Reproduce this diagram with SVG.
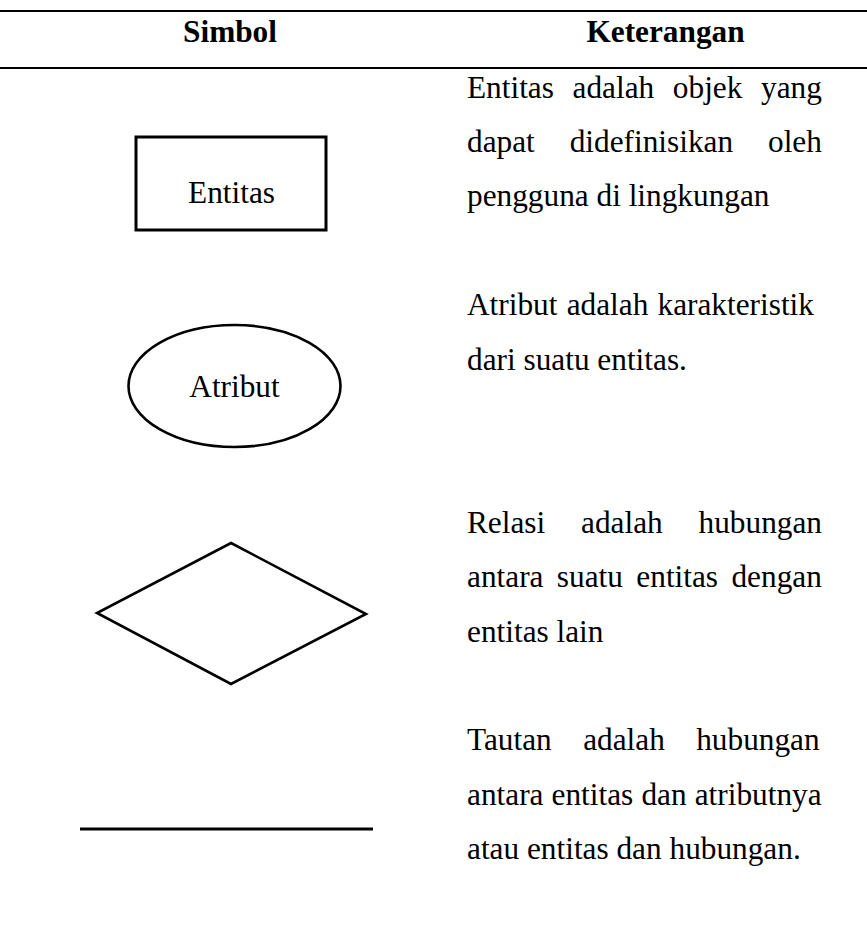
<svg xmlns="http://www.w3.org/2000/svg" width="867" height="932" viewBox="0 0 867 932">
<style>
.t{font-family:"Liberation Serif","Times New Roman",serif;font-size:31.3px;fill:#000}
.h{font-weight:bold;text-anchor:middle}
.c{text-anchor:middle}
.s{fill:none;stroke:#000}
</style>
<rect width="867" height="932" fill="#fff"/>
<g id="table-rules">
<line class="s" x1="0" y1="11" x2="867" y2="11" stroke-width="2"/>
<line class="s" x1="0" y1="68" x2="867" y2="68" stroke-width="2.2"/>
</g>
<g id="header">
<text class="t h" x="230" y="42">Simbol</text>
<text class="t h" x="665.5" y="42">Keterangan</text>
</g>
<g id="node-entitas">
<rect class="s" x="136" y="137" width="190" height="93" stroke-width="3"/>
<text class="t c" x="231.5" y="203">Entitas</text>
</g>
<g id="node-atribut">
<ellipse class="s" cx="234.5" cy="386" rx="106" ry="61" stroke-width="2.6"/>
<text class="t c" x="234.5" y="397">Atribut</text>
</g>
<g id="node-relasi">
<polygon class="s" points="231,543 366,614 231,684 97,613" stroke-width="2.6"/>
</g>
<g id="connectors">
<line class="s" x1="80" y1="829" x2="373" y2="829" stroke-width="3"/>
</g>
<g id="descriptions">
<text class="t" x="467" y="97.5" word-spacing="10.8">Entitas adalah objek yang</text>
<text class="t" x="467" y="151.9" word-spacing="27.1">dapat didefinisikan oleh</text>
<text class="t" x="467" y="206.3">pengguna di lingkungan</text>
<text class="t" x="467" y="315.1" word-spacing="1.4">Atribut adalah karakteristik</text>
<text class="t" x="467" y="369.5">dari suatu entitas.</text>
<text class="t" x="467" y="532.7" word-spacing="28">Relasi adalah hubungan</text>
<text class="t" x="467" y="587.1" word-spacing="5.6">antara suatu entitas dengan</text>
<text class="t" x="467" y="641.5">entitas lain</text>
<text class="t" x="467" y="750.3" word-spacing="23.6">Tautan adalah hubungan</text>
<text class="t" x="467" y="804.7" word-spacing="0.3">antara entitas dan atributnya</text>
<text class="t" x="467" y="859.1">atau entitas dan hubungan.</text>
</g>
</svg>
